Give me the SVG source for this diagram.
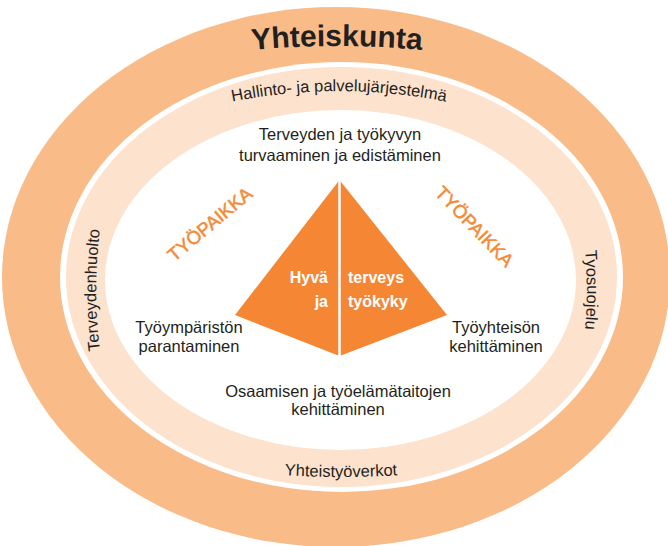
<svg xmlns="http://www.w3.org/2000/svg" width="668" height="546" viewBox="0 0 668 546">
  <style>
    .t { font-family: "Liberation Sans", Arial, sans-serif; fill: #231f20; }
    .lbl { font-size: 16.5px; text-anchor: middle; }
    .ring { font-size: 16.5px; }
    .big { font-size: 30px; font-weight: bold; }
    .tp { font-family: "Liberation Sans", Arial, sans-serif; fill: #f48a35; stroke: #f48a35; stroke-width: 0.5px; font-size: 18.5px; text-anchor: middle; }
    .pyr { font-family: "Liberation Sans", Arial, sans-serif; fill: #ffffff; font-size: 16px; font-weight: bold; }
  </style>
  <defs>
    <path id="pTop" d="M 37 97.5 A 900 900 0 0 1 637 97.5"/>
    <path id="pHall" d="M 39 180 A 551 551 0 0 1 639 180"/>
    <path id="pBot" d="M 41 425.5 A 900 900 0 0 0 641 425.5"/>
    <path id="pLeft" d="M 138 490 A 500 500 0 0 1 138 90"/>
    <path id="pRight" d="M 545 90 A 500 500 0 0 1 545 490"/>
  </defs>
  <rect width="668" height="546" fill="#ffffff"/>

  <g id="rings">
    <ellipse cx="336" cy="277" rx="334" ry="270" fill="#f9bc89"/>
    <ellipse cx="341.5" cy="277" rx="281.5" ry="215" fill="#ffffff"/>
    <ellipse cx="341.5" cy="277" rx="275.5" ry="210" fill="#fde2cd"/>
    <ellipse cx="340.5" cy="280" rx="235.5" ry="170" fill="#ffffff"/>
  </g>

  <g id="ring-labels">
    <text class="t big"><textPath href="#pTop" startOffset="50%" text-anchor="middle">Yhteiskunta</textPath></text>
    <text class="t ring"><textPath href="#pHall" startOffset="50%" text-anchor="middle">Hallinto- ja palvelujärjestelmä</textPath></text>
    <text class="t ring"><textPath href="#pBot" startOffset="50%" text-anchor="middle">Yhteistyöverkot</textPath></text>
    <text class="t ring"><textPath href="#pLeft" startOffset="50%" text-anchor="middle">Terveydenhuolto</textPath></text>
    <text class="t ring"><textPath href="#pRight" startOffset="50%" text-anchor="middle">Tyosuojelu</textPath></text>
  </g>

  <g id="pyramid">
    <polygon points="339.5,180 235,315 339.5,356 447,315" fill="#f58634"/>
    <line x1="339.5" y1="178" x2="339.5" y2="358" stroke="#ffffff" stroke-width="2.5"/>
    <text class="pyr" x="328" y="283" text-anchor="end">Hyvä</text>
    <text class="pyr" x="328" y="307" text-anchor="end">ja</text>
    <text class="pyr" x="348" y="283">terveys</text>
    <text class="pyr" x="348" y="307">työkyky</text>
  </g>

  <g id="workplace-left">
    <text class="tp" transform="translate(214,229) rotate(-40)">TYÖPAIKKA</text>
  </g>
  <g id="workplace-right">
    <text class="tp" transform="translate(470,231) rotate(46)">TYÖPAIKKA</text>
  </g>

  <g id="top-label">
    <text class="t lbl" x="340" y="140">Terveyden ja työkyvyn</text>
    <text class="t lbl" x="340" y="161">turvaaminen ja edistäminen</text>
  </g>
  <g id="left-label">
    <text class="t lbl" x="189" y="333">Työympäristön</text>
    <text class="t lbl" x="189" y="352">parantaminen</text>
  </g>
  <g id="right-label">
    <text class="t lbl" x="496" y="333">Työyhteisön</text>
    <text class="t lbl" x="496" y="352">kehittäminen</text>
  </g>
  <g id="bottom-label">
    <text class="t lbl" x="338" y="397">Osaamisen ja työelämätaitojen</text>
    <text class="t lbl" x="338" y="415">kehittäminen</text>
  </g>
</svg>
